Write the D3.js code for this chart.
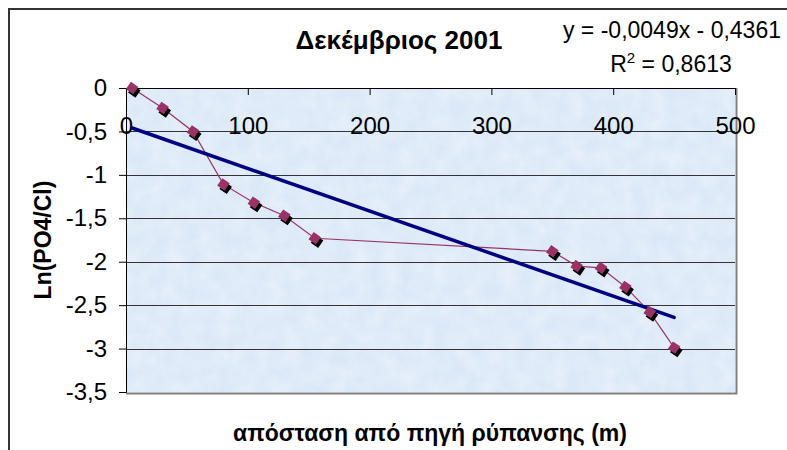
<!DOCTYPE html>
<html>
<head>
<meta charset="utf-8">
<script src="https://cdn.jsdelivr.net/npm/d3@7"></script>
<style>
  html, body { margin: 0; padding: 0; background: #fff; }
  svg { display: block; font-family: "Liberation Sans", Arial, sans-serif; }
</style>
</head>
<body>
<svg id="chart" width="787" height="450"></svg>
<script>
// distance from pollution source (m) and Ln(PO4/Cl)
const distances = [5, 30, 55, 80, 105, 130, 155, 350, 370, 390, 410, 430, 450];
const lnRatio   = [0, -0.23, -0.5, -1.11, -1.32, -1.47, -1.73, -1.88, -2.05, -2.07, -2.29, -2.58, -2.99];
const xTicks = [0, 100, 200, 300, 400, 500];
const yTicks = [0, -0.5, -1, -1.5, -2, -2.5, -3, -3.5];
// trendline as printed on the chart
const trendSlope = -0.0049;
const trendIntercept = -0.4361;
const title = 'Δεκέμβριος 2001';
const xTitle = 'απόσταση από πηγή ρύπανσης (m)';
const yTitle = 'Ln(PO4/Cl)';

const svg = d3.select('#chart');
const plot = { left: 126, top: 88, right: 735, bottom: 392 };

const x = d3.scaleLinear().domain([0, 500]).range([plot.left, plot.right]);
const y = d3.scaleLinear().domain([0, -3.5]).range([plot.top, plot.bottom]);
const fmt = d => String(d).replace('.', ',');

// outer chart frame (cut off at right / bottom)
svg.append('path')
  .attr('d', 'M9,460 V9 H800')
  .attr('fill', 'none').attr('stroke', '#333').attr('stroke-width', 2);

// tissue-paper texture for the plot area
const defs = svg.append('defs');
const f = defs.append('filter').attr('id', 'paper').attr('x', 0).attr('y', 0).attr('width', 1).attr('height', 1);
f.append('feTurbulence').attr('type', 'fractalNoise').attr('baseFrequency', 0.06).attr('numOctaves', 3).attr('seed', 4).attr('result', 'n');
f.append('feColorMatrix').attr('in', 'n').attr('type', 'matrix')
  .attr('values', '0 0 0 0 0.95  0 0 0 0 0.97  0 0 0 0 1  0 0 0 0.6 -0.15');
f.append('feComposite').attr('in2', 'SourceGraphic').attr('operator', 'in').attr('result', 't');
f.append('feMerge').call(m => { m.append('feMergeNode').attr('in', 'SourceGraphic'); m.append('feMergeNode').attr('in', 't'); });

svg.append('rect')
  .attr('x', plot.left).attr('y', plot.top)
  .attr('width', plot.right - plot.left).attr('height', plot.bottom - plot.top)
  .attr('fill', '#dbe8f8').attr('filter', 'url(#paper)');

// plot border (grey)
svg.append('path')
  .attr('d', `M${plot.right + 1.5},${plot.top} V${plot.bottom + 1.5} H${plot.left}`)
  .attr('fill', 'none').attr('stroke', '#808080').attr('stroke-width', 2);

// gridlines
svg.append('g')
  .selectAll('line')
  .data(yTicks.filter(d => d !== 0 && d !== -3.5))
  .join('line')
  .attr('x1', plot.left).attr('x2', plot.right)
  .attr('y1', d => Math.round(y(d)) + 0.5).attr('y2', d => Math.round(y(d)) + 0.5)
  .attr('stroke', '#333').attr('stroke-width', 1);

// y axis
const yAxis = svg.append('g')
  .attr('transform', `translate(${plot.left},0)`)
  .call(d3.axisLeft(y).tickValues(yTicks).tickFormat(fmt).tickSize(7).tickPadding(12));
yAxis.select('.domain').attr('stroke', '#000');
yAxis.selectAll('.tick line').attr('stroke', '#000');
yAxis.selectAll('text').attr('font-size', 24).attr('fill', '#000').attr('font-family', '"Liberation Sans", Arial, sans-serif');

// x axis sits at y = 0, ticks pointing into the plot, labels further down
const xAxis = svg.append('g')
  .attr('transform', `translate(0,${y(0)})`)
  .call(d3.axisBottom(x).tickValues(xTicks).tickSize(7).tickPadding(22).tickSizeOuter(0));
xAxis.select('.domain').attr('stroke', '#000');
xAxis.selectAll('.tick line').attr('stroke', '#000');
xAxis.selectAll('text').attr('font-size', 24).attr('fill', '#000').attr('font-family', '"Liberation Sans", Arial, sans-serif');

// data line
const pts = distances.map((d, i) => [d, lnRatio[i]]);
svg.append('path')
  .datum(pts)
  .attr('fill', 'none').attr('stroke', '#993366').attr('stroke-width', 1.2)
  .attr('d', d3.line().x(d => x(d[0])).y(d => y(d[1])));

// linear trendline
const [x0, x1] = d3.extent(distances);
svg.append('line')
  .attr('x1', x(x0)).attr('y1', y(trendSlope * x0 + trendIntercept))
  .attr('x2', x(x1)).attr('y2', y(trendSlope * x1 + trendIntercept))
  .attr('stroke', '#000080').attr('stroke-width', 3.5).attr('stroke-linecap', 'round');

// markers: tilted squares with black shadow
const mk = svg.append('g').selectAll('g').data(pts).join('g')
  .attr('transform', d => `translate(${x(d[0])},${y(d[1])}) rotate(35)`);
mk.append('rect').attr('x', -3.5).attr('y', -3.5).attr('width', 9).attr('height', 9)
  .attr('fill', '#000').attr('transform', 'rotate(-35) translate(2,2) rotate(35)');
mk.append('rect').attr('x', -4.5).attr('y', -4.5).attr('width', 9).attr('height', 9)
  .attr('fill', '#993366');

// titles
svg.append('text')
  .attr('x', 399).attr('y', 49).attr('text-anchor', 'middle')
  .attr('font-size', 26).attr('font-weight', 'bold').text(title);

svg.append('text')
  .attr('x', 430).attr('y', 441).attr('text-anchor', 'middle')
  .attr('font-size', 23).attr('font-weight', 'bold').text(xTitle);

svg.append('text')
  .attr('transform', `translate(51,${(plot.top + plot.bottom) / 2}) rotate(-90)`)
  .attr('text-anchor', 'middle')
  .attr('font-size', 23).attr('font-weight', 'bold').text(yTitle);

// trendline equation
const eq = svg.append('g').attr('font-size', 23).attr('text-anchor', 'middle');
eq.append('text').attr('x', 672).attr('y', 38)
  .text(`y = ${fmt(trendSlope)}x - ${fmt(-trendIntercept)}`);
const r2 = eq.append('text').attr('x', 671).attr('y', 72);
r2.append('tspan').text('R');
r2.append('tspan').attr('dy', -9).attr('font-size', 15).text('2');
r2.append('tspan').attr('dy', 9).text(' = 0,8613');
</script>
</body>
</html>
